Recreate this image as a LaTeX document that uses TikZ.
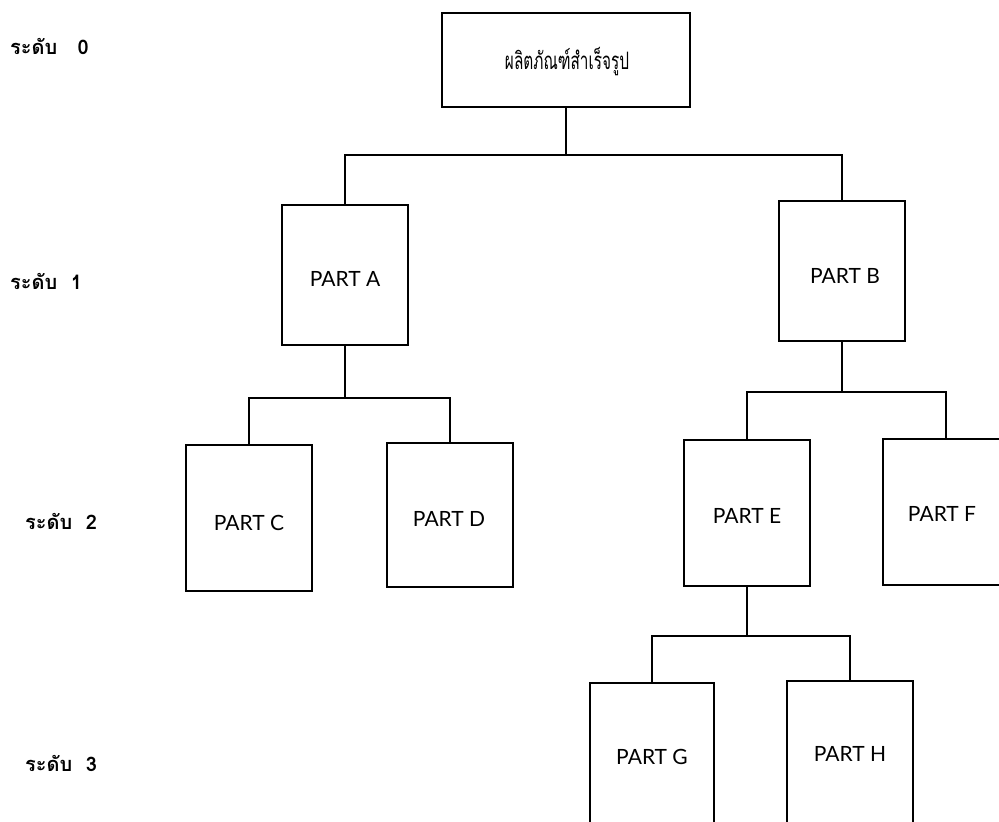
\documentclass[tikz,border=0pt]{standalone}
\usepackage{fontspec}
\setmainfont{Lato}
\newfontfamily\thaifont[Script=Thai]{Loma}
\begin{document}
\begin{tikzpicture}[x=1pt,y=-1pt,
  box/.style={draw,line width=1.6pt,inner sep=0pt},
  conn/.style={line width=1.6pt},
  lbl/.style={font=\fontsize{21}{24}\selectfont},
  lvl/.style={font=\thaifont\bfseries\fontsize{20}{22}\selectfont,anchor=west,inner sep=0pt}]
\useasboundingbox[fill=white] (0,0) rectangle (999,822);
% boxes
\node[box,minimum width=248pt,minimum height=94pt] (top) at (566,60) {};
\node[font=\thaifont\fontsize{24}{26}\selectfont,xscale=0.64] (toptxt) at (567,62) {ผลิตภัณฑ์สำเร็จรูป};
\node[box,minimum width=126pt,minimum height=140pt] (A) at (345,275) {};
\node[lbl] (At) at (345,279) {PART A};
\node[box,minimum width=126pt,minimum height=140pt] (B) at (842,271) {};
\node[lbl] (Bt) at (845,276) {PART B};
\node[box,minimum width=126pt,minimum height=146pt] (C) at (249,518) {};
\node[lbl] (Ct) at (249,523) {PART C};
\node[box,minimum width=126pt,minimum height=144pt] (D) at (450,515) {};
\node[lbl] (Dt) at (449,519) {PART D};
\node[box,minimum width=126pt,minimum height=146pt] (E) at (747,513) {};
\node[lbl] (Et) at (747,516) {PART E};
\node[box,minimum width=126pt,minimum height=146pt] (F) at (946,512) {};
\node[lbl] (Ft) at (942,514) {PART F};
\node[box,minimum width=124pt,minimum height=160pt] (G) at (652,763) {};
\node[lbl] (Gt) at (652,757) {PART G};
\node[box,minimum width=126pt,minimum height=160pt] (H) at (850,761) {};
\node[lbl] (Ht) at (850,754) {PART H};
% level labels
\node[lvl] (l0) at (10,46) {ระดับ \ \ 0};
\node[lvl] (l1) at (10,281) {ระดับ \ 1};
\node[lvl] (l2) at (25,521) {ระดับ \ 2};
\node[lvl] (l3) at (25,763) {ระดับ \ 3};
% connectors
\coordinate (j0) at (566,155);
\draw[conn] (top.south) -- (j0);
\draw[conn] (A.north) |- (j0) -| (B.north);
\coordinate (j1) at (345,398);
\draw[conn] (A.south) -- (j1);
\draw[conn] (C.north) |- (j1) -| (D.north);
\coordinate (j2) at (842,392);
\draw[conn] (B.south) -- (j2);
\draw[conn] (E.north) |- (j2) -| (F.north);
\coordinate (j3) at (747,636);
\draw[conn] (E.south) -- (j3);
\draw[conn] (G.north) |- (j3) -| (H.north);
\end{tikzpicture}
\end{document}
